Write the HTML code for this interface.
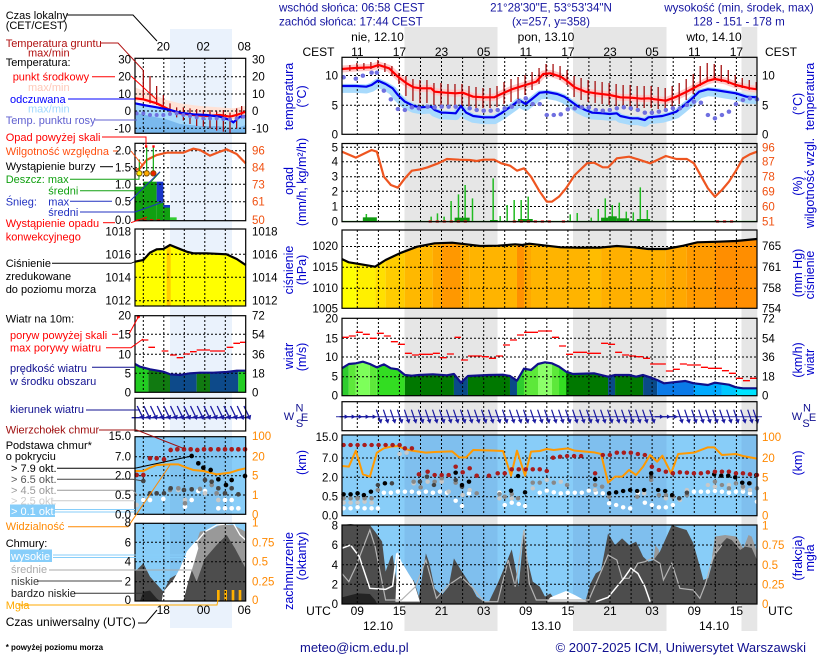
<!DOCTYPE html>
<html><head><meta charset="utf-8">
<style>
html,body{margin:0;padding:0;background:#fff;}
svg{display:block;font-family:"Liberation Sans",Arial,sans-serif;}
.z *{vector-effect:non-scaling-stroke;}
.s *{vector-effect:non-scaling-stroke;}
.g{stroke:#000;stroke-width:1;stroke-dasharray:2,2;fill:none;}
</style></head><body>
<svg width="820" height="660" viewBox="0 0 820 660" xmlns="http://www.w3.org/2000/svg">
<defs>
<g id="at"><path d="M-2.2,-7L1.6,4.2" stroke="#1a1aa0" stroke-width="1.2" fill="none"/><polygon points="2.5,7 -0.8,3.3 3.8,2.3" fill="#1a1aa0"/></g>
<g id="ah"><path d="M-4,0L1.5,0" stroke="#1a1aa0" stroke-width="1.2" fill="none"/><polygon points="5,0 1,-2.2 1,2.2" fill="#1a1aa0"/></g>
<g id="as"><path d="M-2.8,-5L1.9,4.8" stroke="#1a1aa0" stroke-width="1.3" fill="none"/><polygon points="3.6,9 4.5,3.8 -0.8,5.8" fill="#1a1aa0"/></g>
<clipPath id="clL"><rect x="270" y="424" width="40" height="200"/></clipPath>
<clipPath id="clR"><rect x="780" y="432" width="40" height="200"/></clipPath>
</defs>
<rect width="820" height="660" fill="#fff"/>

<!-- night bands main -->
<rect x="404.5" y="27" width="93" height="604" fill="#e6e6e6"/>
<rect x="573" y="27" width="93.5" height="604" fill="#e6e6e6"/>
<rect x="741.5" y="27" width="15.8" height="604" fill="#e6e6e6"/>
<!-- small chart band -->
<rect x="170" y="29" width="62" height="599" fill="#eaf2fc"/>

<!-- cloud panels bg -->
<rect x="342" y="435" width="415" height="80.7" fill="#88cdf8"/>
<rect x="404.5" y="435" width="93" height="80.7" fill="#7fbfee"/>
<rect x="573" y="435" width="93.5" height="80.7" fill="#7fbfee"/>
<rect x="741.5" y="435" width="15.8" height="80.7" fill="#7fbfee"/>
<rect x="342" y="525" width="415" height="79" fill="#88cdf8"/>
<rect x="404.5" y="525" width="93" height="79" fill="#7fbfee"/>
<rect x="573" y="525" width="93.5" height="79" fill="#7fbfee"/>
<rect x="741.5" y="525" width="15.8" height="79" fill="#7fbfee"/>
<!-- small cloud bgs -->
<rect x="135" y="436.7" width="110.7" height="77.6" fill="#88cdf8"/>
<rect x="170" y="436.7" width="62" height="77.6" fill="#80c3f0"/>
<rect x="135" y="523.3" width="110.7" height="77.7" fill="#88cdf8"/>
<rect x="170" y="523.3" width="62" height="77.7" fill="#80c3f0"/>

<!-- ========== MAIN TEMPERATURE (zoom2 space) ========== -->
<g class="z" transform="translate(270,0) scale(0.35033,0.33333)">
<polyline transform="translate(0,7)" fill="none" stroke="#a8dafc" stroke-width="9" stroke-linejoin="round" points="205,258 245,258 275,260 290,255 308,242 330,252 350,265 365,285 385,305 410,318 430,322 460,320 470,330 490,338 500,338 530,340 545,318 560,338 580,348 610,352 640,352 660,340 680,325 700,310 710,300 730,312 750,295 770,278 790,276 820,282 840,290 860,305 880,320 900,330 920,338 950,340 970,342 990,340 1000,348 1030,355 1050,355 1070,360 1080,352 1100,350 1120,348 1140,342 1160,335 1180,318 1200,300 1225,275 1250,268 1270,270 1300,275 1330,280 1360,290 1390,292"/>
<polyline fill="none" stroke="#ffcaca" stroke-width="7" stroke-linejoin="round" points="205,207 245,204 290,202 310,195 340,205 365,230 390,250 410,262 430,265 460,265 470,275 500,278 530,280 550,278 580,290 610,292 640,292 660,282 690,268 720,258 760,245 780,222 800,220 830,230 850,245 870,262 900,275 930,280 970,285 1000,292 1030,293 1060,296 1080,295 1100,298 1130,302 1160,290 1190,275 1220,258 1250,242 1270,237 1300,243 1330,255 1370,265 1390,268"/>
</g>

<!-- ========== MAIN PRESSURE FILL (zoom3) ========== -->
<g class="z" transform="translate(270,135) scale(0.35033,0.33333)">
<clipPath id="cp"><polygon points="205,520 205,372 225,382 260,388 300,395 330,375 370,355 420,335 470,325 520,323 560,328 600,333 650,332 700,328 720,330 740,326 790,332 830,337 880,338 940,338 990,333 1040,337 1080,342 1130,342 1180,332 1220,322 1280,320 1330,318 1390,312 1390,520"/></clipPath>
<g clip-path="url(#cp)">
<rect x="205" y="290" width="40" height="230" fill="#ffff00"/>
<rect x="245" y="290" width="55" height="230" fill="#fff000"/>
<rect x="300" y="290" width="30" height="230" fill="#ffe000"/>
<rect x="330" y="290" width="55" height="230" fill="#ffcc00"/>
<rect x="385" y="290" width="80" height="230" fill="#ffb800"/>
<rect x="465" y="290" width="25" height="230" fill="#ffa800"/>
<rect x="490" y="290" width="55" height="230" fill="#ff9800"/>
<rect x="545" y="290" width="25" height="230" fill="#ffae00"/>
<rect x="570" y="290" width="135" height="230" fill="#ffb400"/>
<rect x="705" y="290" width="20" height="230" fill="#ff9000"/>
<rect x="725" y="290" width="20" height="230" fill="#ffa800"/>
<rect x="745" y="290" width="165" height="230" fill="#ffb400"/>
<rect x="910" y="290" width="35" height="230" fill="#ffbc00"/>
<rect x="945" y="290" width="185" height="230" fill="#ffb000"/>
<rect x="1130" y="290" width="60" height="230" fill="#ffa800"/>
<rect x="1190" y="290" width="80" height="230" fill="#ff9a00"/>
<rect x="1270" y="290" width="120" height="230" fill="#ff8e00"/>
</g>
</g>

<!-- ========== MAIN WIND FILL (zoom4) ========== -->
<g class="z" transform="translate(270,310) scale(0.35033,0.33333)">
<clipPath id="cw"><polygon points="205,257 205,175 225,162 245,160 265,155 285,162 305,172 325,163 345,175 365,178 385,195 405,197 425,195 465,193 505,196 525,192 545,218 565,198 625,195 665,194 685,198 705,212 725,176 745,180 765,162 785,157 805,160 825,170 845,185 865,192 925,190 965,200 985,195 1025,195 1045,200 1065,195 1085,202 1105,210 1125,220 1150,217 1185,213 1210,220 1250,225 1270,218 1310,224 1330,232 1350,235 1390,235 1390,257"/></clipPath>
<g clip-path="url(#cw)">
<rect x="205" y="140" width="20" height="117" fill="#2ecc2e"/>
<rect x="225" y="140" width="20" height="117" fill="#5de83a"/>
<rect x="245" y="140" width="40" height="117" fill="#7dff5a"/>
<rect x="285" y="140" width="20" height="117" fill="#5de83a"/>
<rect x="305" y="140" width="80" height="117" fill="#33dd22"/>
<rect x="385" y="140" width="140" height="117" fill="#007800"/>
<rect x="525" y="140" width="40" height="117" fill="#0a4a88"/>
<rect x="565" y="140" width="120" height="117" fill="#007800"/>
<rect x="685" y="140" width="20" height="117" fill="#0a4a88"/>
<rect x="705" y="140" width="20" height="117" fill="#2ecc2e"/>
<rect x="725" y="140" width="40" height="117" fill="#5de83a"/>
<rect x="765" y="140" width="40" height="117" fill="#8cff6a"/>
<rect x="805" y="140" width="20" height="117" fill="#5de83a"/>
<rect x="825" y="140" width="20" height="117" fill="#33dd22"/>
<rect x="845" y="140" width="120" height="117" fill="#007800"/>
<rect x="965" y="140" width="20" height="117" fill="#0a4a88"/>
<rect x="985" y="140" width="80" height="117" fill="#007800"/>
<rect x="1065" y="140" width="40" height="117" fill="#0a4a88"/>
<rect x="1105" y="140" width="105" height="117" fill="#0a7ae8"/>
<rect x="1210" y="140" width="80" height="117" fill="#00aaff"/>
<rect x="1290" y="140" width="40" height="117" fill="#00c8ff"/>
<rect x="1330" y="140" width="60" height="117" fill="#00e4ff"/>
</g>
</g>

<!-- ========== MAIN CLOUD COVER FILLS (zoom6) ========== -->
<g class="z" transform="translate(270,520) scale(0.35033,0.33333)">
<polygon fill="#999999" points="1080,252 1095,120 1100,75 1110,90 1120,252"/>
<polygon fill="#999999" points="1262,252 1262,110 1270,50 1299,45 1332,50 1351,85 1366,45 1375,50 1390,95 1390,252"/>
<polygon fill="#4d4d4d" points="205,252 205,15 230,12 250,15 285,15 300,35 320,65 330,155 345,110 350,105 360,175 375,215 390,200 410,180 425,230 445,100 455,130 470,205 490,225 510,200 525,115 545,150 570,190 590,230 610,245 625,245 650,190 670,140 690,88 700,140 710,200 725,30 735,120 750,185 770,200 785,230 800,220 815,240 830,220 845,215 860,230 880,245 900,245 915,190 930,160 945,150 965,40 985,75 1005,55 1025,75 1045,65 1065,110 1080,125 1095,120 1113,95 1147,15 1170,24 1189,30 1208,69 1227,140 1237,180 1251,174 1265,120 1285,75 1304,54 1318,60 1342,90 1356,80 1375,84 1390,120 1390,252"/>
<polygon fill="#232323" points="205,252 205,232 250,220 285,222 300,240 306,252"/>
<polygon fill="#ffffff" points="358,245 364,95 375,125 395,160 410,185 428,245"/>
<polygon fill="#ffffff" points="790,245 800,232 845,213 870,225 905,245"/>
<polyline fill="none" stroke="#b4b4b4" stroke-width="1.2" points="205,160 225,185 245,140 285,30 300,80 330,240 375,240 415,200 445,120 475,235 510,195 545,170 580,205 610,245 650,245 680,120 700,200 725,30 740,190 760,240 910,240 945,155 965,105 990,120 1005,175 1025,175 1050,130 1070,125 1090,115 1113,130 1123,180 1147,130 1170,205 1208,210 1227,235 1242,195 1265,110 1290,75"/>
<polyline fill="none" stroke="#ffffff" stroke-width="1.5" points="205,85 230,75 255,110 285,205 330,208 350,198 362,100"/>
<polyline fill="none" stroke="#ffffff" stroke-width="1.5" points="930,245 965,232 990,200 1010,175 1030,145 1050,160 1070,200 1085,245"/>
</g>

<!-- ========== SMALL CHART FILLS ========== -->
<g class="s" transform="scale(0.33333)">
<polygon fill="#ffe2d6" points="405,262 450,280 500,300 540,310 600,318 660,322 700,325 737,318 737,343 700,358 660,353 620,356 580,353 540,348 510,338 470,318 430,306 405,303"/>
<polygon fill="#a6dafc" points="405,312 430,317 470,324 510,332 540,340 580,345 620,347 660,352 690,362 700,369 720,352 737,350 737,400 405,400"/>
<polygon fill="#7ab9ee" points="405,338 450,348 500,358 540,372 600,378 660,378 700,388 737,375 737,400 405,400"/>
<rect x="405" y="560" width="25" height="100" fill="#11a011"/>
<rect x="430" y="545" width="40" height="115" fill="#11a011"/>
<rect x="470" y="605" width="20" height="55" fill="#11a011"/>
<rect x="470" y="545" width="20" height="60" fill="#1a36c8"/>
<rect x="490" y="615" width="20" height="45" fill="#11a011"/>
<rect x="490" y="615" width="20" height="8" fill="#1a36c8"/>
<rect x="510" y="652" width="20" height="8" fill="#33cc33"/>
</g>
<g class="s" transform="translate(0,220) scale(0.33333)">
<polygon fill="#ffff00" points="405,258 405,125 430,120 450,98 470,88 490,87 510,75 530,83 560,95 580,100 620,100 680,103 710,117 737,135 737,258"/>
<polygon fill="#ffcc00" points="500,79 512,75 512,258 500,258"/>
<clipPath id="cws"><polygon points="405,517 405,432 420,440 450,448 490,455 510,463 540,465 570,460 600,458 640,458 680,456 710,452 737,452 737,517"/></clipPath>
<g clip-path="url(#cws)">
<rect x="405" y="420" width="40" height="97" fill="#22cc22"/>
<rect x="445" y="420" width="65" height="97" fill="#117a11"/>
<rect x="510" y="420" width="80" height="97" fill="#0d4a8a"/>
<rect x="590" y="420" width="40" height="97" fill="#117a11"/>
<rect x="630" y="420" width="85" height="97" fill="#0d4a8a"/>
<rect x="715" y="420" width="22" height="97" fill="#22cc22"/>
</g>
</g>
<g class="s" transform="translate(0,425) scale(0.33333)">
<polygon fill="#999999" points="545,528 545,440 580,380 600,320 630,315 660,300 700,300 737,320 737,528"/>
<polygon fill="#4d4d4d" points="405,528 405,440 430,415 450,455 490,500 510,460 545,440 575,435 590,470 615,400 650,360 680,330 705,370 737,430 737,528"/>
<polygon fill="#ffffff" points="485,528 490,500 520,465 540,430 560,380 575,362 590,345 595,370 580,420 565,470 550,528"/>
<polygon fill="#252525" points="420,528 430,500 450,497 470,520 480,528"/>
<polyline fill="none" stroke="#ffffff" stroke-width="1.3" points="590,350 615,320 650,300 700,295 720,330 737,345"/>
<rect x="651" y="495" width="8" height="33" fill="#ffb000"/>
<rect x="673" y="495" width="8" height="33" fill="#ffb000"/>
<rect x="695" y="495" width="8" height="33" fill="#ffb000"/>
<rect x="716" y="495" width="8" height="33" fill="#ffb000"/>
</g>

<!-- ========== GRIDS MAIN ========== -->
<path class="g" d="M357.3,57V134M378.4,57V134M399.4,57V134M420.5,57V134M441.5,57V134M462.6,57V134M483.7,57V134M504.7,57V134M525.8,57V134M546.8,57V134M567.9,57V134M588.9,57V134M610,57V134M631.1,57V134M652.1,57V134M673.2,57V134M694.3,57V134M715.3,57V134M736.4,57V134M342,75.5H757M342,105.3H757"/>
<path class="g" d="M357.3,144V221M378.4,144V221M399.4,144V221M420.5,144V221M441.5,144V221M462.6,144V221M483.7,144V221M504.7,144V221M525.8,144V221M546.8,144V221M567.9,144V221M588.9,144V221M610,144V221M631.1,144V221M652.1,144V221M673.2,144V221M694.3,144V221M715.3,144V221M736.4,144V221M342,147.3H757M342,161.7H757M342,176.7H757M342,191.3H757M342,206.5H757"/>
<path class="g" d="M357.3,230V308M378.4,230V308M399.4,230V308M420.5,230V308M441.5,230V308M462.6,230V308M483.7,230V308M504.7,230V308M525.8,230V308M546.8,230V308M567.9,230V308M588.9,230V308M610,230V308M631.1,230V308M652.1,230V308M673.2,230V308M694.3,230V308M715.3,230V308M736.4,230V308M342,246.5H757M342,267.3H757M342,288.3H757"/>
<path class="g" d="M357.3,318V395M378.4,318V395M399.4,318V395M420.5,318V395M441.5,318V395M462.6,318V395M483.7,318V395M504.7,318V395M525.8,318V395M546.8,318V395M567.9,318V395M588.9,318V395M610,318V395M631.1,318V395M652.1,318V395M673.2,318V395M694.3,318V395M715.3,318V395M736.4,318V395M342,338.3H757M342,357H757M342,376.7H757"/>
<path class="g" d="M357.3,402V430M378.4,402V430M399.4,402V430M420.5,402V430M441.5,402V430M462.6,402V430M483.7,402V430M504.7,402V430M525.8,402V430M546.8,402V430M567.9,402V430M588.9,402V430M610,402V430M631.1,402V430M652.1,402V430M673.2,402V430M694.3,402V430M715.3,402V430M736.4,402V430"/>
<path class="g" d="M357.3,435V515M378.4,435V515M399.4,435V515M420.5,435V515M441.5,435V515M462.6,435V515M483.7,435V515M504.7,435V515M525.8,435V515M546.8,435V515M567.9,435V515M588.9,435V515M610,435V515M631.1,435V515M652.1,435V515M673.2,435V515M694.3,435V515M715.3,435V515M736.4,435V515M342,458H757M342,477.3H757M342,496.7H757"/>
<path class="g" d="M357.3,525V604M378.4,525V604M399.4,525V604M420.5,525V604M441.5,525V604M462.6,525V604M483.7,525V604M504.7,525V604M525.8,525V604M546.8,525V604M567.9,525V604M588.9,525V604M610,525V604M631.1,525V604M652.1,525V604M673.2,525V604M694.3,525V604M715.3,525V604M736.4,525V604M342,545H757M342,564.7H757M342,584.3H757"/>

<!-- ========== GRIDS SMALL ========== -->
<path class="g" d="M143.3,58V133M163.8,58V133M184.3,58V133M204.8,58V133M225.3,58V133M135,76.7H246M135,94H246M135,111H246M135,128.3H246"/>
<path class="g" d="M143.3,143V221M163.8,143V221M184.3,143V221M204.8,143V221M225.3,143V221M135,150.7H246M135,167.7H246M135,184.3H246M135,201.7H246"/>
<path class="g" d="M143.3,229V306M163.8,229V306M184.3,229V306M204.8,229V306M225.3,229V306M135,254.3H246M135,277.3H246M135,300.7H246"/>
<path class="g" d="M143.3,316V392M163.8,316V392M184.3,316V392M204.8,316V392M225.3,316V392M135,334.3H246M135,354.3H246M135,373.3H246"/>
<path class="g" d="M143.3,398V431M163.8,398V431M184.3,398V431M204.8,398V431M225.3,398V431"/>
<path class="g" d="M143.3,437V514M163.8,437V514M184.3,437V514M204.8,437V514M225.3,437V514M135,456.7H246M135,475.7H246M135,495H246"/>
<path class="g" d="M143.3,523V601M163.8,523V601M184.3,523V601M204.8,523V601M225.3,523V601M135,542.3H246M135,561.7H246M135,581.7H246"/>

<!-- ========== MAIN TEMP LINES ========== -->
<g class="z" transform="translate(270,0) scale(0.35033,0.33333)">
<path fill="none" stroke="#a00000" stroke-width="1.2" d="M228,195V213M248,189V210M268,189V210M288,186V207M308,180V204M328,189V216M348,198V228M368,219V252M388,228V288M408,237V303M428,240V309M448,240V309M468,249V315M488,249V318M508,252V318M528,252V318M548,252V318M568,258V324M588,261V324M608,264V324M628,264V324M648,258V321M668,246V312M688,237V306M708,231V297M728,225V285M748,216V270M768,204V252M788,192V231M808,192V231M828,198V240M848,210V255M868,228V291M888,234V300M908,240V306M928,243V309M948,246V312M968,249V315M988,252V318M1008,255V321M1028,255V321M1048,258V324M1068,258V324M1088,258V324M1108,261V327M1128,264V327M1148,258V321M1168,249V312M1188,237V300M1208,222V282M1228,198V258M1248,189V246M1268,192V240M1288,195V246M1308,210V252M1328,225V261M1348,234V264M1368,240V270M1388,246V270"/>
<polyline fill="none" stroke="#ff0000" stroke-width="2.2" stroke-linejoin="round" points="205,207 245,204 290,202 310,195 340,205 365,230 390,250 410,262 430,265 460,265 470,275 500,278 530,280 550,278 580,290 610,292 640,292 660,282 690,268 720,258 760,245 780,222 800,220 830,230 850,245 870,262 900,275 930,280 970,285 1000,292 1030,293 1060,296 1080,295 1100,298 1130,302 1160,290 1190,275 1220,258 1250,242 1270,237 1300,243 1330,255 1370,265 1390,268"/>
<polyline fill="none" stroke="#0000ee" stroke-width="2.2" stroke-linejoin="round" points="205,258 245,258 275,260 290,255 308,242 330,252 350,265 365,285 385,305 410,318 430,322 460,320 470,330 490,338 500,338 530,340 545,318 560,338 580,348 610,352 640,352 660,340 680,325 700,310 710,300 730,312 750,295 770,278 790,276 820,282 840,290 860,305 880,320 900,330 920,338 950,340 970,342 990,340 1000,348 1030,355 1050,355 1070,360 1080,352 1100,350 1120,348 1140,342 1160,335 1180,318 1200,300 1225,275 1250,268 1270,270 1300,275 1330,280 1360,290 1390,292"/>
<g fill="#7070e0">
<circle cx="210" cy="232" r="6.5"/><circle cx="245" cy="236" r="6.5"/><circle cx="265" cy="227" r="6.5"/><circle cx="290" cy="218" r="6.5"/><circle cx="305" cy="218" r="6.5"/><circle cx="325" cy="272" r="6.5"/><circle cx="345" cy="298" r="6.5"/><circle cx="365" cy="327" r="6.5"/><circle cx="385" cy="330" r="6.5"/><circle cx="405" cy="322" r="6.5"/><circle cx="425" cy="325" r="6.5"/><circle cx="450" cy="320" r="6.5"/><circle cx="470" cy="322" r="6.5"/><circle cx="490" cy="320" r="6.5"/><circle cx="510" cy="320" r="6.5"/><circle cx="530" cy="320" r="6.5"/><circle cx="570" cy="325" r="6.5"/><circle cx="590" cy="330" r="6.5"/><circle cx="610" cy="332" r="6.5"/><circle cx="630" cy="332" r="6.5"/><circle cx="650" cy="330" r="6.5"/><circle cx="670" cy="325" r="6.5"/><circle cx="690" cy="320" r="6.5"/><circle cx="710" cy="305" r="6.5"/><circle cx="730" cy="295" r="6.5"/><circle cx="750" cy="312" r="6.5"/><circle cx="770" cy="312" r="6.5"/><circle cx="790" cy="345" r="6.5"/><circle cx="810" cy="345" r="6.5"/><circle cx="830" cy="343" r="6.5"/><circle cx="850" cy="328" r="6.5"/><circle cx="870" cy="325" r="6.5"/><circle cx="890" cy="322" r="6.5"/><circle cx="910" cy="322" r="6.5"/><circle cx="930" cy="330" r="6.5"/><circle cx="950" cy="332" r="6.5"/><circle cx="970" cy="330" r="6.5"/><circle cx="990" cy="325" r="6.5"/><circle cx="1010" cy="322" r="6.5"/><circle cx="1030" cy="325" r="6.5"/><circle cx="1050" cy="330" r="6.5"/><circle cx="1070" cy="338" r="6.5"/><circle cx="1090" cy="338" r="6.5"/><circle cx="1110" cy="335" r="6.5"/><circle cx="1130" cy="330" r="6.5"/><circle cx="1150" cy="325" r="6.5"/><circle cx="1170" cy="325" r="6.5"/><circle cx="1190" cy="315" r="6.5"/><circle cx="1210" cy="305" r="6.5"/><circle cx="1230" cy="308" r="6.5"/><circle cx="1250" cy="345" r="6.5"/><circle cx="1270" cy="355" r="6.5"/><circle cx="1290" cy="345" r="6.5"/><circle cx="1310" cy="335" r="6.5"/><circle cx="1330" cy="312" r="6.5"/><circle cx="1350" cy="300" r="6.5"/><circle cx="1370" cy="295" r="6.5"/><circle cx="1390" cy="298" r="6.5"/>
</g>
</g>

<!-- ========== MAIN PRECIP + PRESSURE LINES (zoom3) ========== -->
<g class="z" transform="translate(270,135) scale(0.35033,0.33333)">
<line x1="205" y1="259" x2="1390" y2="259" stroke="#11aa11" stroke-width="1"/>
<path fill="none" stroke="#22bb22" stroke-width="1.5" d="M275,237V260M460,245V260M478,235V260M497,245V260M517,198V260M538,178V260M557,150V260M578,190V260M637,130V260M657,243V260M677,210V260M697,195V260M717,195V260M737,185V260M857,238V260M877,234V260M917,248V260M937,222V260M957,190V260M977,210V260M997,203V260M1017,230V260M1037,232V260M1057,157V260M1077,225V260"/>
<g fill="#119911">
<rect x="265" y="247" width="40" height="13"/><rect x="527" y="248" width="43" height="12"/><rect x="628" y="255" width="22" height="5"/><rect x="708" y="252" width="42" height="8"/><rect x="945" y="248" width="20" height="12"/><rect x="965" y="244" width="25" height="16"/><rect x="990" y="250" width="35" height="10"/><rect x="1047" y="252" width="38" height="8"/>
</g>
<g fill="#dd2222">
<rect x="453" y="256" width="9" height="7"/><rect x="473" y="256" width="9" height="7"/><rect x="493" y="256" width="9" height="7"/><rect x="513" y="256" width="9" height="7"/><rect x="533" y="256" width="9" height="7"/><rect x="553" y="256" width="9" height="7"/><rect x="693" y="256" width="9" height="7"/><rect x="713" y="256" width="9" height="7"/><rect x="733" y="256" width="9" height="7"/><rect x="753" y="256" width="9" height="7"/><rect x="773" y="256" width="9" height="7"/><rect x="793" y="256" width="9" height="7"/><rect x="833" y="256" width="9" height="7"/><rect x="1273" y="256" width="9" height="7"/><rect x="1293" y="256" width="9" height="7"/><rect x="1313" y="256" width="9" height="7"/>
</g>
<polyline fill="none" stroke="#ee5520" stroke-width="2.2" stroke-linejoin="round" points="205,50 245,68 290,45 305,50 325,125 345,150 365,158 385,130 405,107 430,103 450,97 480,85 505,72 540,74 570,75 590,78 610,74 640,74 660,85 685,92 705,107 725,100 745,125 770,170 790,200 805,200 825,185 845,160 870,120 905,85 925,83 950,97 965,97 990,70 1025,65 1050,73 1085,85 1130,63 1160,72 1190,72 1210,85 1250,160 1270,185 1290,165 1310,140 1330,107 1350,70 1370,58 1390,50"/>
<polyline fill="none" stroke="#000" stroke-width="2.2" stroke-linejoin="round" points="205,372 225,382 260,388 300,395 330,375 370,355 420,335 470,325 520,323 560,328 600,333 650,332 700,328 720,330 740,326 790,332 830,337 880,338 940,338 990,333 1040,337 1080,342 1130,342 1180,332 1220,322 1280,320 1330,318 1390,312"/>
</g>

<!-- ========== MAIN WIND LINES (zoom4) ========== -->
<g class="z" transform="translate(270,310) scale(0.35033,0.33333)">
<polyline fill="none" stroke="#10108a" stroke-width="2.2" stroke-linejoin="round" points="205,175 225,162 245,160 265,155 285,162 305,172 325,163 345,175 365,178 385,195 405,197 425,195 465,193 505,196 525,192 545,218 565,198 625,195 665,194 685,198 705,212 725,176 745,180 765,162 785,157 805,160 825,170 845,185 865,192 925,190 965,200 985,195 1025,195 1045,200 1065,195 1085,202 1105,210 1125,220 1150,217 1185,213 1210,220 1250,225 1270,218 1310,224 1330,232 1350,235 1390,235"/>
<path fill="none" stroke="#ff0000" stroke-width="1.3" d="M205,82H225M225,78H245M245,67H265M265,73H285M285,85H305M305,70H325M325,78H345M345,95H365M365,103H385M385,130H405M405,135H425M425,133H465M465,130H485M485,143H505M505,132H525M527,82H545M545,150H565M565,138H605M605,140H625M625,145H645M645,138H665M665,105H685M685,90H705M705,75H725M725,67H765M765,63H805M805,82H825M825,108H845M845,133H865M865,127H905M905,130H945M945,100H965M965,103H985M985,127H1005M1005,135H1025M1025,138H1045M1045,140H1065M1065,145H1085M1085,162H1130M1130,183H1150M1150,178H1170M1170,162H1190M1190,165H1230M1230,172H1250M1250,175H1290M1290,182H1310M1310,190H1330M1330,205H1350M1350,212H1370M1370,205H1390"/>
</g>
<!-- wind direction main -->
<line x1="336" y1="416.7" x2="762" y2="416.7" stroke="#4848b0" stroke-width="1.2"/>
<g transform="translate(0,416.7)">
<use href="#ah" x="343.6"/><use href="#ah" x="350.6"/><use href="#ah" x="357.6"/><use href="#ah" x="364.6"/><use href="#ah" x="371.6"/>
<use href="#at" x="378.6"/><use href="#at" x="385.6"/><use href="#at" x="392.6"/><use href="#at" x="399.6"/><use href="#at" x="406.6"/><use href="#at" x="413.6"/><use href="#at" x="420.6"/><use href="#at" x="427.6"/><use href="#at" x="434.7"/><use href="#at" x="441.7"/><use href="#at" x="448.7"/><use href="#at" x="455.7"/><use href="#at" x="462.7"/><use href="#at" x="469.7"/><use href="#at" x="476.7"/><use href="#at" x="483.7"/><use href="#at" x="490.7"/><use href="#at" x="497.7"/><use href="#at" x="504.7"/><use href="#at" x="511.7"/><use href="#at" x="518.7"/><use href="#at" x="525.7"/><use href="#at" x="532.7"/><use href="#at" x="539.8"/><use href="#at" x="546.8"/><use href="#at" x="553.8"/><use href="#at" x="560.8"/><use href="#at" x="567.8"/><use href="#at" x="574.8"/><use href="#at" x="581.8"/><use href="#at" x="588.8"/><use href="#at" x="595.8"/><use href="#at" x="602.8"/><use href="#at" x="609.8"/><use href="#at" x="616.8"/><use href="#at" x="623.8"/><use href="#at" x="630.8"/><use href="#at" x="637.8"/><use href="#at" x="644.8"/><use href="#at" x="651.9"/>
<use href="#ah" x="658.9"/><use href="#ah" x="665.9"/><use href="#ah" x="672.9"/>
<use href="#at" x="679.9"/><use href="#at" x="686.9"/><use href="#at" x="693.9"/><use href="#at" x="700.9"/><use href="#at" x="707.9"/><use href="#at" x="714.9"/><use href="#at" x="721.9"/><use href="#at" x="728.9"/><use href="#at" x="735.9"/><use href="#at" x="742.9"/><use href="#at" x="749.9"/><use href="#at" x="755.5"/>
</g>

<!-- ========== MAIN CLOUD BASE (zoom5) ========== -->
<g class="z" transform="translate(270,430) scale(0.35033,0.33333)">
<polyline fill="none" stroke="#ff9900" stroke-width="2" stroke-linejoin="round" points="205,108 225,110 245,62 265,133 285,140 305,68 325,55 345,50 365,48 385,57 405,62 445,68 470,66 520,64 540,82 560,82 580,60 640,62 665,63 688,137 705,62 728,137 745,65 770,63 790,57 810,60 850,55 870,62 925,67 945,72 965,158 985,140 1005,140 1025,120 1045,135 1065,110 1085,75 1105,95 1120,77 1145,130 1165,72 1210,68 1250,52 1268,52 1290,75 1330,72 1350,78 1390,86"/>
<g fill="#ffffff">
<circle cx="210" cy="235" r="6.5"/><circle cx="230" cy="235" r="6.5"/><circle cx="250" cy="232" r="6.5"/><circle cx="270" cy="235" r="6.5"/><circle cx="290" cy="235" r="6.5"/><circle cx="308" cy="235" r="6.5"/><circle cx="325" cy="188" r="6.5"/><circle cx="345" cy="188" r="6.5"/><circle cx="365" cy="185" r="6.5"/><circle cx="385" cy="185" r="6.5"/><circle cx="405" cy="185" r="6.5"/><circle cx="425" cy="188" r="6.5"/><circle cx="445" cy="185" r="6.5"/><circle cx="465" cy="188" r="6.5"/><circle cx="485" cy="185" r="6.5"/><circle cx="505" cy="188" r="6.5"/><circle cx="530" cy="212" r="6.5"/><circle cx="548" cy="228" r="6.5"/><circle cx="568" cy="190" r="6.5"/><circle cx="655" cy="188" r="6.5"/><circle cx="670" cy="225" r="6.5"/><circle cx="690" cy="218" r="6.5"/><circle cx="710" cy="222" r="6.5"/><circle cx="728" cy="228" r="6.5"/><circle cx="770" cy="188" r="6.5"/><circle cx="790" cy="182" r="6.5"/><circle cx="810" cy="187" r="6.5"/><circle cx="830" cy="190" r="6.5"/><circle cx="850" cy="188" r="6.5"/><circle cx="870" cy="188" r="6.5"/><circle cx="890" cy="188" r="6.5"/><circle cx="910" cy="182" r="6.5"/><circle cx="930" cy="188" r="6.5"/><circle cx="950" cy="190" r="6.5"/><circle cx="968" cy="220" r="6.5"/><circle cx="988" cy="225" r="6.5"/><circle cx="1008" cy="232" r="6.5"/><circle cx="1028" cy="235" r="6.5"/><circle cx="1050" cy="188" r="6.5"/><circle cx="1070" cy="218" r="6.5"/><circle cx="1090" cy="225" r="6.5"/><circle cx="1110" cy="232" r="6.5"/><circle cx="1130" cy="232" r="6.5"/><circle cx="1150" cy="225" r="6.5"/><circle cx="1190" cy="188" r="6.5"/><circle cx="1210" cy="185" r="6.5"/><circle cx="1230" cy="185" r="6.5"/><circle cx="1250" cy="185" r="6.5"/><circle cx="1270" cy="183" r="6.5"/><circle cx="1290" cy="185" r="6.5"/><circle cx="1310" cy="188" r="6.5"/><circle cx="1330" cy="185" r="6.5"/><circle cx="1350" cy="185" r="6.5"/><circle cx="1370" cy="190" r="6.5"/><circle cx="1390" cy="215" r="6.5"/>
</g>
<g fill="#c8c8c8">
<circle cx="210" cy="218" r="6.5"/><circle cx="230" cy="218" r="6.5"/><circle cx="250" cy="218" r="6.5"/><circle cx="270" cy="215" r="6.5"/><circle cx="290" cy="218" r="6.5"/><circle cx="370" cy="72" r="6.5"/><circle cx="390" cy="68" r="6.5"/><circle cx="410" cy="160" r="6.5"/><circle cx="450" cy="155" r="6.5"/><circle cx="490" cy="155" r="6.5"/><circle cx="510" cy="185" r="6.5"/><circle cx="550" cy="195" r="6.5"/><circle cx="570" cy="180" r="6.5"/><circle cx="655" cy="205" r="6.5"/><circle cx="690" cy="205" r="6.5"/><circle cx="750" cy="175" r="6.5"/><circle cx="790" cy="150" r="6.5"/><circle cx="830" cy="155" r="6.5"/><circle cx="928" cy="180" r="6.5"/><circle cx="1068" cy="190" r="6.5"/><circle cx="1130" cy="205" r="6.5"/><circle cx="1170" cy="210" r="6.5"/><circle cx="1190" cy="180" r="6.5"/><circle cx="1250" cy="165" r="6.5"/><circle cx="1270" cy="170" r="6.5"/><circle cx="1310" cy="165" r="6.5"/><circle cx="1350" cy="175" r="6.5"/><circle cx="1370" cy="180" r="6.5"/>
</g>
<g fill="#888888">
<circle cx="210" cy="205" r="6.5"/><circle cx="230" cy="205" r="6.5"/><circle cx="250" cy="205" r="6.5"/><circle cx="270" cy="205" r="6.5"/><circle cx="290" cy="205" r="6.5"/><circle cx="308" cy="180" r="6.5"/><circle cx="410" cy="155" r="6.5"/><circle cx="430" cy="172" r="6.5"/><circle cx="470" cy="155" r="6.5"/><circle cx="490" cy="145" r="6.5"/><circle cx="530" cy="158" r="6.5"/><circle cx="590" cy="190" r="6.5"/><circle cx="655" cy="192" r="6.5"/><circle cx="670" cy="200" r="6.5"/><circle cx="690" cy="192" r="6.5"/><circle cx="708" cy="205" r="6.5"/><circle cx="750" cy="158" r="6.5"/><circle cx="770" cy="158" r="6.5"/><circle cx="810" cy="158" r="6.5"/><circle cx="848" cy="165" r="6.5"/><circle cx="928" cy="165" r="6.5"/><circle cx="948" cy="170" r="6.5"/><circle cx="968" cy="200" r="6.5"/><circle cx="1048" cy="200" r="6.5"/><circle cx="1088" cy="150" r="6.5"/><circle cx="1110" cy="195" r="6.5"/><circle cx="1130" cy="195" r="6.5"/><circle cx="1150" cy="200" r="6.5"/><circle cx="1190" cy="195" r="6.5"/><circle cx="1270" cy="155" r="6.5"/><circle cx="1290" cy="165" r="6.5"/><circle cx="1310" cy="175" r="6.5"/><circle cx="1330" cy="160" r="6.5"/><circle cx="1350" cy="170" r="6.5"/><circle cx="1370" cy="160" r="6.5"/><circle cx="1390" cy="175" r="6.5"/>
</g>
<g fill="#444444">
<circle cx="308" cy="165" r="6.5"/><circle cx="348" cy="160" r="6.5"/><circle cx="428" cy="155" r="6.5"/><circle cx="448" cy="140" r="6.5"/><circle cx="468" cy="165" r="6.5"/><circle cx="530" cy="150" r="6.5"/><circle cx="548" cy="170" r="6.5"/><circle cx="1088" cy="140" r="6.5"/><circle cx="1168" cy="205" r="6.5"/><circle cx="1190" cy="188" r="6.5"/>
</g>
<g fill="#000000">
<circle cx="210" cy="193" r="6.5"/><circle cx="230" cy="193" r="6.5"/><circle cx="250" cy="190" r="6.5"/><circle cx="268" cy="195" r="6.5"/><circle cx="288" cy="185" r="6.5"/><circle cx="328" cy="160" r="6.5"/><circle cx="530" cy="128" r="6.5"/><circle cx="548" cy="165" r="6.5"/><circle cx="568" cy="155" r="6.5"/><circle cx="688" cy="182" r="6.5"/><circle cx="708" cy="138" r="6.5"/><circle cx="728" cy="187" r="6.5"/><circle cx="928" cy="148" r="6.5"/><circle cx="968" cy="190" r="6.5"/><circle cx="988" cy="187" r="6.5"/><circle cx="1008" cy="183" r="6.5"/><circle cx="1028" cy="180" r="6.5"/><circle cx="1048" cy="183" r="6.5"/><circle cx="1068" cy="180" r="6.5"/><circle cx="1088" cy="130" r="6.5"/><circle cx="1108" cy="180" r="6.5"/><circle cx="1128" cy="183" r="6.5"/><circle cx="1148" cy="195" r="6.5"/><circle cx="1268" cy="133" r="6.5"/><circle cx="1288" cy="137" r="6.5"/><circle cx="1308" cy="137" r="6.5"/><circle cx="1328" cy="142" r="6.5"/><circle cx="1348" cy="158" r="6.5"/><circle cx="1368" cy="160" r="6.5"/><circle cx="1388" cy="135" r="6.5"/>
</g>
<g fill="#a81c1c">
<circle cx="210" cy="45" r="6.5"/><circle cx="230" cy="45" r="6.5"/><circle cx="250" cy="45" r="6.5"/><circle cx="270" cy="45" r="6.5"/><circle cx="290" cy="45" r="6.5"/><circle cx="310" cy="45" r="6.5"/><circle cx="330" cy="45" r="6.5"/><circle cx="350" cy="45" r="6.5"/><circle cx="370" cy="45" r="6.5"/><circle cx="385" cy="55" r="6.5"/><circle cx="405" cy="55" r="6.5"/><circle cx="425" cy="133" r="6.5"/><circle cx="450" cy="125" r="6.5"/><circle cx="470" cy="135" r="6.5"/><circle cx="490" cy="135" r="6.5"/><circle cx="510" cy="135" r="6.5"/><circle cx="530" cy="110" r="6.5"/><circle cx="550" cy="127" r="6.5"/><circle cx="570" cy="115" r="6.5"/><circle cx="590" cy="137" r="6.5"/><circle cx="625" cy="137" r="6.5"/><circle cx="650" cy="130" r="6.5"/><circle cx="670" cy="130" r="6.5"/><circle cx="690" cy="118" r="6.5"/><circle cx="710" cy="118" r="6.5"/><circle cx="730" cy="118" r="6.5"/><circle cx="750" cy="118" r="6.5"/><circle cx="770" cy="118" r="6.5"/><circle cx="790" cy="123" r="6.5"/><circle cx="808" cy="83" r="6.5"/><circle cx="828" cy="80" r="6.5"/><circle cx="848" cy="78" r="6.5"/><circle cx="868" cy="78" r="6.5"/><circle cx="888" cy="78" r="6.5"/><circle cx="928" cy="130" r="6.5"/><circle cx="950" cy="75" r="6.5"/><circle cx="970" cy="75" r="6.5"/><circle cx="990" cy="68" r="6.5"/><circle cx="1010" cy="68" r="6.5"/><circle cx="1030" cy="68" r="6.5"/><circle cx="1050" cy="72" r="6.5"/><circle cx="1070" cy="75" r="6.5"/><circle cx="1090" cy="110" r="6.5"/><circle cx="1110" cy="120" r="6.5"/><circle cx="1130" cy="125" r="6.5"/><circle cx="1150" cy="130" r="6.5"/><circle cx="1170" cy="127" r="6.5"/><circle cx="1190" cy="128" r="6.5"/><circle cx="1210" cy="130" r="6.5"/><circle cx="1230" cy="130" r="6.5"/><circle cx="1250" cy="127" r="6.5"/><circle cx="1270" cy="125" r="6.5"/><circle cx="1290" cy="125" r="6.5"/><circle cx="1310" cy="125" r="6.5"/><circle cx="1330" cy="130" r="6.5"/><circle cx="1350" cy="130" r="6.5"/><circle cx="1370" cy="133" r="6.5"/><circle cx="1390" cy="135" r="6.5"/>
</g>
</g>

<!-- ========== SMALL CHART LINES ========== -->
<g class="s" transform="scale(0.33333)">
<path fill="none" stroke="#a00000" stroke-width="1.2" d="M430,210V300M450,228V310M470,258V315M490,285V325M510,310V345M530,322V352M550,322V362M570,325V372M590,327V378M610,330V380M630,330V385M650,335V392M670,330V395M690,338V400M710,325V385M725,318V355"/>
<polyline fill="none" stroke="#ff0000" stroke-width="2.2" points="405,295 430,298 470,310 510,330 540,340 580,345 620,348 660,345 690,350 710,345 737,335"/>
<polyline fill="none" stroke="#0000ee" stroke-width="2.2" points="405,310 430,315 470,322 510,330 540,338 580,343 620,345 660,350 690,360 700,367 720,350 737,348"/>
<g fill="#7070e0"><circle cx="410" cy="340" r="6"/><circle cx="430" cy="340" r="6"/><circle cx="450" cy="345" r="6"/><circle cx="470" cy="345" r="6"/><circle cx="490" cy="345" r="6"/><circle cx="510" cy="342" r="6"/><circle cx="530" cy="340" r="6"/><circle cx="550" cy="345" r="6"/><circle cx="570" cy="348" r="6"/><circle cx="590" cy="352" r="6"/><circle cx="610" cy="355" r="6"/><circle cx="630" cy="355" r="6"/><circle cx="650" cy="355" r="6"/><circle cx="670" cy="357" r="6"/><circle cx="690" cy="358" r="6"/><circle cx="710" cy="355" r="6"/><circle cx="730" cy="350" r="6"/></g>
<polyline fill="none" stroke="#ee5520" stroke-width="2.2" points="405,510 420,505 440,480 470,465 500,458 550,458 580,446 600,450 630,467 660,455 680,448 710,462 737,490"/>
<path fill="none" stroke="#11aa11" stroke-width="1.2" d="M418,512V478M440,512V442M460,512V442"/>
<rect x="435" y="436" width="7" height="7" fill="#ff0000"/><rect x="457" y="436" width="7" height="7" fill="#ff0000"/>
<circle cx="418" cy="520" r="8" fill="#ffee00" stroke="#805000" stroke-width="1"/>
<circle cx="440" cy="520" r="8" fill="#ffaa00" stroke="#805000" stroke-width="1"/>
<circle cx="460" cy="520" r="8" fill="#ee2200" stroke="#805000" stroke-width="1"/>
<path fill="none" stroke="#ff0000" stroke-width="1.5" d="M410,660H420M430,660H440M450,660H460M470,660H480"/>
</g>
<g class="s" transform="translate(0,220) scale(0.33333)">
<polyline fill="none" stroke="#000" stroke-width="2.2" points="405,125 430,120 450,98 470,88 490,87 510,75 530,83 560,95 580,100 620,100 680,103 710,117 737,135"/>
<polyline fill="none" stroke="#10108a" stroke-width="2.2" points="405,432 420,440 450,448 490,455 510,463 540,465 570,460 600,458 640,458 680,456 710,452 737,452"/>
<path fill="none" stroke="#ff0000" stroke-width="1.3" d="M425,360H445M445,382H465M485,393H505M510,405H530M530,413H550M550,402H570M570,395H590M590,390H630M630,393H675M680,382H700M700,370H720M720,367H737"/>
<circle cx="415" cy="290" r="5" fill="#ff0000"/>
<line x1="395" y1="593" x2="750" y2="593" stroke="#1a1aa0" stroke-width="1.3"/>
</g>
<g transform="translate(0,411)">
<use href="#as" x="140"/><use href="#as" x="146.7"/><use href="#as" x="153.3"/><use href="#as" x="160"/><use href="#as" x="166.7"/><use href="#as" x="173.3"/><use href="#as" x="180"/><use href="#as" x="186.7"/><use href="#as" x="193.3"/><use href="#as" x="200"/><use href="#as" x="206.7"/><use href="#as" x="213.3"/><use href="#as" x="220"/><use href="#as" x="226.7"/><use href="#as" x="233.3"/><use href="#as" x="240"/><use href="#as" x="246.7"/>
</g>
<g class="s" transform="translate(0,425) scale(0.33333)">
<polyline fill="none" stroke="#ff9900" stroke-width="2" points="405,138 430,138 450,128 470,120 510,118 535,118 560,128 580,135 610,138 650,148 690,143 715,135 737,130"/>
<g fill="#ffffff"><circle cx="430" cy="225" r="7"/><circle cx="450" cy="225" r="7"/><circle cx="490" cy="222" r="7"/><circle cx="555" cy="245" r="7"/><circle cx="575" cy="225" r="7"/><circle cx="595" cy="198" r="7"/><circle cx="615" cy="198" r="7"/><circle cx="655" cy="250" r="7"/><circle cx="675" cy="250" r="7"/><circle cx="695" cy="250" r="7"/><circle cx="715" cy="250" r="7"/><circle cx="695" cy="225" r="7"/><circle cx="675" cy="225" r="7"/></g>
<g fill="#c8c8c8"><circle cx="535" cy="195" r="7"/><circle cx="555" cy="225" r="7"/><circle cx="615" cy="205" r="7"/><circle cx="655" cy="225" r="7"/><circle cx="410" cy="240" r="7"/></g>
<g fill="#888888"><circle cx="510" cy="195" r="7"/><circle cx="535" cy="190" r="7"/><circle cx="555" cy="235" r="7"/><circle cx="600" cy="192" r="7"/><circle cx="635" cy="180" r="7"/><circle cx="650" cy="205" r="7"/></g>
<g fill="#444444"><circle cx="430" cy="168" r="7"/><circle cx="450" cy="205" r="7"/><circle cx="470" cy="205" r="7"/><circle cx="492" cy="205" r="7"/><circle cx="512" cy="190" r="7"/><circle cx="552" cy="195" r="7"/><circle cx="575" cy="193" r="7"/><circle cx="615" cy="165" r="7"/><circle cx="635" cy="170" r="7"/><circle cx="655" cy="190" r="7"/><circle cx="675" cy="205" r="7"/><circle cx="695" cy="190" r="7"/><circle cx="715" cy="208" r="7"/></g>
<g fill="#000000"><circle cx="575" cy="93" r="7"/><circle cx="595" cy="115" r="7"/><circle cx="610" cy="128" r="7"/><circle cx="632" cy="135" r="7"/><circle cx="655" cy="163" r="7"/><circle cx="678" cy="180" r="7"/><circle cx="695" cy="165" r="7"/><circle cx="735" cy="153" r="7"/></g>
<g fill="#a81c1c"><circle cx="410" cy="150" r="7"/><circle cx="430" cy="150" r="7"/><circle cx="450" cy="100" r="7"/><circle cx="470" cy="100" r="7"/><circle cx="492" cy="103" r="7"/><circle cx="512" cy="75" r="7"/><circle cx="532" cy="73" r="7"/><circle cx="552" cy="73" r="7"/><circle cx="572" cy="73" r="7"/><circle cx="592" cy="75" r="7"/><circle cx="612" cy="73" r="7"/><circle cx="632" cy="73" r="7"/><circle cx="655" cy="73" r="7"/><circle cx="675" cy="73" r="7"/><circle cx="695" cy="73" r="7"/><circle cx="715" cy="73" r="7"/><circle cx="735" cy="73" r="7"/></g>
</g>

<!-- ========== PANEL BORDERS ========== -->
<g fill="none" stroke="#000" stroke-width="1.2">
<rect x="342" y="57.3" width="415" height="77"/>
<rect x="342" y="143.5" width="415" height="78.2"/>
<rect x="342" y="230" width="415" height="78.3"/>
<rect x="342" y="318.3" width="415" height="77.4"/>
<rect x="342" y="401.7" width="415" height="29"/>
<rect x="342" y="435" width="415" height="80.7"/>
<rect x="342" y="525" width="415" height="79"/>
<rect x="135" y="58.3" width="110.7" height="75"/>
<rect x="135" y="143.3" width="110.7" height="77.4"/>
<rect x="135" y="229" width="110.7" height="77"/>
<rect x="135" y="315.7" width="110.7" height="76.6"/>
<rect x="135" y="398.3" width="110.7" height="32.7"/>
<rect x="135" y="436.7" width="110.7" height="77.6"/>
<rect x="135" y="523.3" width="110.7" height="77.7"/>
</g>

<!-- ========== LEGEND CONNECTORS ========== -->
<g fill="none" stroke-width="1">
<polyline stroke="#000" points="67,15 133,15 157,41"/>
<polyline stroke="#b01010" points="100,43 118,43 143,70"/>
<polyline stroke="#ff0000" points="92,76.7 115,76.7"/>
<polyline stroke="#ff0000" points="131,76 157,100"/>
<polyline stroke="#0000ff" points="68,99 135,99"/>
<polyline stroke="#6060d0" points="95,120 137,120"/>
<polyline stroke="#ff0000" points="102,137 146,137 146,147"/>
<polyline stroke="#ff5010" points="113,151 118,151"/>
<polyline stroke="#ff5010" points="131,151 143,166"/>
<polyline stroke="#000" points="100,166.7 113,166.7"/>
<polyline stroke="#000" stroke-dasharray="2,1" points="131,166 137,172"/>
<polyline stroke="#10a010" points="70,179.3 139,179.3 139,175"/>
<polyline stroke="#10a010" points="80,190.7 143,190.7 160,172"/>
<polyline stroke="#2030c0" points="70,201.3 112,201.3"/>
<polyline stroke="#2030c0" points="130,201 160,171.7"/>
<polyline stroke="#2030c0" points="80,212 135,212 163,202"/>
<polyline stroke="#ff0000" points="103,222.7 115,222.7"/>
<polyline stroke="#ff0000" points="131,222.7 147,217"/>
<polyline stroke="#000" points="52,263.3 131,263.3 135,261.7"/>
<polyline stroke="#ff0000" points="112,334.3 118,334.3"/>
<polyline stroke="#ff0000" points="129,334 138.3,317"/>
<polyline stroke="#ff0000" points="106,347.7 131,347.7 143,339"/>
<polyline stroke="#101090" points="92,367.3 135,367.3"/>
<polyline stroke="#101090" points="86,410 140,410"/>
<polyline stroke="#a01010" points="99,430 136.7,430 185,449"/>
<polyline stroke="#000" points="57,468.3 135,468.3 191.7,456"/>
<polyline stroke="#444" points="57,479.3 133,479.3 143,481"/>
<polyline stroke="#999" points="57,490.3 133,490.3 137,495"/>
<polyline stroke="#ccc" points="52,500.7 135,500.7"/>
<polyline stroke="#87cefa" points="55,509.5 135,509.5"/>
<polyline stroke="#87cefa" points="55,512 135,512"/>
<polyline stroke="#ff8800" points="68,526.7 128,526.7 170,465"/>
<polyline stroke="#87cefa" points="53,555 186,555"/>
<polyline stroke="#87cefa" points="53,557.5 186,557.5"/>
<polyline stroke="#aaa" points="49,570 193,570"/>
<polyline stroke="#444" points="37,581 122,581"/>
<polyline stroke="#333" points="74,593.3 143,593.3"/>
<polyline stroke="#ffaa00" points="18,605 217,605 218,600"/>
<polyline stroke="#000" points="138,623 146,623 157,610"/>
</g>

<!-- ========== TEXT ========== -->
<g font-size="11.6" fill="#1414a0">
<text x="279" y="11.5">wschód słońca: 06:58 CEST</text>
<text x="279" y="25.5">zachód słońca: 17:44 CEST</text>
<text x="551" y="11.5" text-anchor="middle">21°28'30"E, 53°53'34"N</text>
<text x="551" y="25.5" text-anchor="middle">(x=257, y=358)</text>
<text x="739" y="11.5" text-anchor="middle">wysokość (min, środek, max)</text>
<text x="739" y="25.5" text-anchor="middle">128 - 151 - 178 m</text>
</g>
<g font-size="12" fill="#000" text-anchor="middle">
<text x="377.5" y="41">nie, 12.10</text>
<text x="546" y="41">pon, 13.10</text>
<text x="714" y="41">wto, 14.10</text>
<text x="357.3" y="56">11</text><text x="399.4" y="56">17</text><text x="441.5" y="56">23</text><text x="483.7" y="56">05</text><text x="525.8" y="56">11</text><text x="567.9" y="56">17</text><text x="610" y="56">23</text><text x="652.1" y="56">05</text><text x="694.3" y="56">11</text><text x="736.4" y="56">17</text>
<text x="318.5" y="56">CEST</text><text x="781" y="56">CEST</text>
<text x="357.3" y="615">09</text><text x="399.4" y="615">15</text><text x="441.5" y="615">21</text><text x="483.7" y="615">03</text><text x="525.8" y="615">09</text><text x="567.9" y="615">15</text><text x="610" y="615">21</text><text x="652.1" y="615">03</text><text x="694.3" y="615">09</text><text x="736.4" y="615">15</text>
<text x="318.5" y="615">UTC</text><text x="780.5" y="615">UTC</text>
<text x="378" y="630">12.10</text><text x="546" y="630">13.10</text><text x="714" y="630">14.10</text>
<text x="163.3" y="50.7">20</text><text x="203.3" y="50.7">02</text><text x="244.3" y="50.7">08</text>
<text x="163.3" y="614">18</text><text x="203.5" y="614">00</text><text x="244.3" y="614">06</text>
</g>

<g font-size="11.5" fill="#000" text-anchor="end">
<text x="338" y="79.5">10</text><text x="338" y="109.3">5</text><text x="338" y="138.5">0</text>
<text x="338" y="151.3">5</text><text x="338" y="165.7">4</text><text x="338" y="180.7">3</text><text x="338" y="195.3">2</text><text x="338" y="210.5">1</text><text x="338" y="225.7">0</text>
<text x="338" y="250">1020</text><text x="338" y="271">1015</text><text x="338" y="292">1010</text><text x="338" y="312.3">1005</text>
<text x="338" y="322.3">20</text><text x="338" y="342.3">15</text><text x="338" y="361">10</text><text x="338" y="380.7">5</text><text x="338" y="399.7">0</text>
<text x="338" y="441">15.0</text><text x="338" y="462">7.0</text><text x="338" y="481.3">2.0</text><text x="338" y="500.7">0.5</text><text x="338" y="519.7">0.0</text>
<text x="338" y="529.5">8</text><text x="338" y="549">6</text><text x="338" y="569">4</text><text x="338" y="588.3">2</text><text x="338" y="608">0</text>
</g>
<g font-size="11.5" fill="#000">
<text x="762" y="79.5">10</text><text x="762" y="109.3">5</text><text x="762" y="138.5">0</text>
<text x="762" y="250">765</text><text x="762" y="271">761</text><text x="762" y="292">758</text><text x="762" y="312.3">754</text>
<text x="762" y="322.3">72</text><text x="762" y="342.3">54</text><text x="762" y="361">36</text><text x="762" y="380.7">18</text><text x="762" y="399.7">0</text>
</g>
<g font-size="11.5" fill="#f05010">
<text x="762" y="151.3">96</text><text x="762" y="165.7">87</text><text x="762" y="180.7">78</text><text x="762" y="195.3">69</text><text x="762" y="210.5">60</text><text x="762" y="225.7">51</text>
</g>
<g font-size="11.5" fill="#ff8800">
<text x="762" y="441">100</text><text x="762" y="462">20</text><text x="762" y="481.3">5</text><text x="762" y="500.7">1</text><text x="762" y="519.7">0</text>
<text x="762" y="529.5">1</text><text x="762" y="549">0.75</text><text x="762" y="569">0.5</text><text x="762" y="588.3">0.25</text><text x="762" y="608">0</text>
</g>

<g font-size="11.5" fill="#000" text-anchor="end">
<text x="131" y="63.3">30</text><text x="131" y="80.7">20</text><text x="131" y="98">10</text><text x="131" y="115">0</text><text x="131" y="132.3">-10</text>
<text x="131" y="154.7">2.0</text><text x="131" y="171.7">1.5</text><text x="131" y="188.3">1.0</text><text x="131" y="205.7">0.5</text><text x="131" y="224">0.0</text>
<text x="131" y="235.7">1018</text><text x="131" y="258.3">1016</text><text x="131" y="281.3">1014</text><text x="131" y="304.7">1012</text>
<text x="131" y="319.7">20</text><text x="131" y="338.3">15</text><text x="131" y="358.3">10</text><text x="131" y="377.3">5</text><text x="131" y="396.3">0</text>
<text x="131" y="440">15.0</text><text x="131" y="460.7">7.0</text><text x="131" y="479.7">2.0</text><text x="131" y="499">0.5</text><text x="131" y="518.3">0.0</text>
<text x="131" y="526.3">8</text><text x="131" y="546.3">6</text><text x="131" y="565.7">4</text><text x="131" y="585.7">2</text><text x="131" y="604">0</text>
</g>
<g font-size="11.5" fill="#000">
<text x="252" y="63.3">30</text><text x="252" y="80.7">20</text><text x="252" y="98">10</text><text x="252" y="115">0</text><text x="252" y="132.3">-10</text>
<text x="252" y="235.7">1018</text><text x="252" y="258.3">1016</text><text x="252" y="281.3">1014</text><text x="252" y="304.7">1012</text>
<text x="252" y="319.7">72</text><text x="252" y="338.3">54</text><text x="252" y="358.3">36</text><text x="252" y="377.3">18</text><text x="252" y="396.3">0</text>
</g>
<g font-size="11.5" fill="#f05010">
<text x="252" y="154.7">96</text><text x="252" y="171.7">84</text><text x="252" y="188.3">73</text><text x="252" y="205.7">61</text><text x="252" y="224">50</text>
</g>
<g font-size="11.5" fill="#ff8800">
<text x="252" y="440">100</text><text x="252" y="460.7">20</text><text x="252" y="479.7">5</text><text x="252" y="499">1</text><text x="252" y="518.3">0</text>
<text x="252" y="526.3">1</text><text x="252" y="546.3">0.75</text><text x="252" y="565.7">0.5</text><text x="252" y="585.7">0.25</text><text x="252" y="604">0</text>
</g>

<g font-size="12.5" fill="#0000cc" text-anchor="middle">
<text transform="translate(293,96.5) rotate(-90)">temperatura</text>
<text transform="translate(306,96.5) rotate(-90)">(°C)</text>
<text transform="translate(293,181) rotate(-90)">opad</text>
<text transform="translate(306,182) rotate(-90)">(mm/h, kg/m²/h)</text>
<text transform="translate(293,270) rotate(-90)">ciśnienie</text>
<text transform="translate(306,270) rotate(-90)">(hPa)</text>
<text transform="translate(293,356) rotate(-90)">wiatr</text>
<text transform="translate(306,357) rotate(-90)">(m/s)</text>
<text transform="translate(306,462.5) rotate(-90)">(km)</text>
<text transform="translate(306,556) rotate(-90)">(oktanty)</text>
<text transform="translate(293,571) rotate(-90)">zachmurzenie</text>
<text transform="translate(802,104) rotate(-90)">(°C)</text>
<text transform="translate(814,96.5) rotate(-90)">temperatura</text>
<text transform="translate(802,186) rotate(-90)">(%)</text>
<text transform="translate(814,183) rotate(-90)">wilgotność wzgl.</text>
<text transform="translate(802,273) rotate(-90)">(mm Hg)</text>
<text transform="translate(814,275) rotate(-90)">ciśnienie</text>
<text transform="translate(802,360) rotate(-90)">(km/h)</text>
<text transform="translate(814,362) rotate(-90)">wiatr</text>
<text transform="translate(802,463) rotate(-90)">(km)</text>
<text transform="translate(802,558) rotate(-90)">(frakcja)</text>
<text transform="translate(814,558) rotate(-90)">mgła</text>
</g>
<g font-size="12.5" fill="#0000cc">
<text clip-path="url(#clL)" transform="translate(293,528) rotate(-90)">pion. rozciągł. chmur</text>
<text clip-path="url(#clR)" transform="translate(814,474) rotate(-90)">widzialność</text>
</g>
<g font-size="11" fill="#101090" text-anchor="middle">
<text x="289" y="420">W</text><text x="299.5" y="411.5">N</text><text x="304.5" y="421">E</text><text x="299.5" y="427">S</text>
<text x="797" y="420">W</text><text x="807" y="411.5">N</text><text x="812.5" y="421">E</text><text x="806" y="427">S</text>
</g>

<g font-size="11">
<text x="5.7" y="18.8" fill="#000">Czas lokalny</text>
<text x="5.7" y="29.1" fill="#000">(CET/CEST)</text>
<text x="5.7" y="46.8" fill="#b01010">Temperatura gruntu</text>
<text x="28" y="56.5" fill="#b01010">max/min</text>
<text x="5.7" y="66.1" fill="#000">Temperatura:</text>
<text x="12.7" y="80.5" fill="#ff0000">punkt środkowy</text>
<text x="28" y="90.8" fill="#ffc8b8">max/min</text>
<text x="10" y="102.8" fill="#0000ff">odczuwana</text>
<text x="28" y="112.5" fill="#9fd8ff">max/min</text>
<text x="5.7" y="123.8" fill="#6060d0">Temp. punktu rosy</text>
<text x="5.7" y="141.1" fill="#ff0000">Opad powyżej skali</text>
<text x="5.7" y="154.8" fill="#ff5010">Wilgotność względna</text>
<text x="5.7" y="169.8" fill="#000">Wystąpienie burzy</text>
<text x="5.7" y="183.1" fill="#10a010">Deszcz: max</text>
<text x="48.3" y="194.5" fill="#10a010">średni</text>
<text x="5.7" y="205.5" fill="#2030c0">Śnieg:</text>
<text x="48.3" y="205.5" fill="#2030c0">max</text>
<text x="48.3" y="215.8" fill="#2030c0">średni</text>
<text x="5.7" y="226.8" fill="#ff0000">Wystąpienie opadu</text>
<text x="5.7" y="240.5" fill="#ff0000">konwekcyjnego</text>
<text x="5.7" y="267.1" fill="#000">Ciśnienie</text>
<text x="5.7" y="279.8" fill="#000">zredukowane</text>
<text x="5.7" y="292.8" fill="#000">do poziomu morza</text>
<text x="5.7" y="322.5" fill="#000">Wiatr na 10m:</text>
<text x="10" y="338.8" fill="#ff0000">poryw powyżej skali</text>
<text x="10" y="351.5" fill="#ff0000">max porywy wiatru</text>
<text x="10" y="372.1" fill="#101090">prędkość wiatru</text>
<text x="10" y="384.8" fill="#101090">w środku obszaru</text>
<text x="10" y="413.1" fill="#101090">kierunek wiatru</text>
<text x="5.7" y="433.3" fill="#a01010">Wierzchołek chmur</text>
<text x="5.7" y="448.8" fill="#000">Podstawa chmur*</text>
<text x="5.7" y="459.8" fill="#000">o pokryciu</text>
<text x="11" y="472.1" fill="#000">&gt; 7.9 okt.</text>
<text x="11" y="483.1" fill="#555">&gt; 6.5 okt.</text>
<text x="11" y="494.1" fill="#999">&gt; 4.5 okt.</text>
<text x="11" y="504.5" fill="#ccc">&gt; 2.5 okt.</text>
<rect x="10" y="504.5" width="45" height="12.5" fill="#87cefa"/>
<text x="11" y="514.8" fill="#fff">&gt; 0.1 okt.</text>
<text x="5.7" y="529.8" fill="#ff8800">Widzialność</text>
<text x="5.7" y="547.1" fill="#000">Chmury:</text>
<rect x="10" y="549.5" width="42" height="12.5" fill="#87cefa"/>
<text x="11" y="559.8" fill="#fff">wysokie</text>
<text x="11" y="572.8" fill="#aaa">średnie</text>
<text x="11" y="584.8" fill="#444">niskie</text>
<text x="11" y="597.1" fill="#222">bardzo niskie</text>
<text x="5.7" y="608.8" fill="#ffaa00">Mgła</text>
</g>
<text x="5.7" y="626" font-size="12" fill="#000">Czas uniwersalny (UTC)</text>
<text x="5.7" y="650" font-size="8" font-weight="bold" fill="#000">* powyżej poziomu morza</text>

<g font-size="13" fill="#101090">
<text x="300" y="652">meteo@icm.edu.pl</text>
<text x="806" y="652" text-anchor="end">© 2007-2025 ICM, Uniwersytet Warszawski</text>
</g>
</svg>
</body></html>
